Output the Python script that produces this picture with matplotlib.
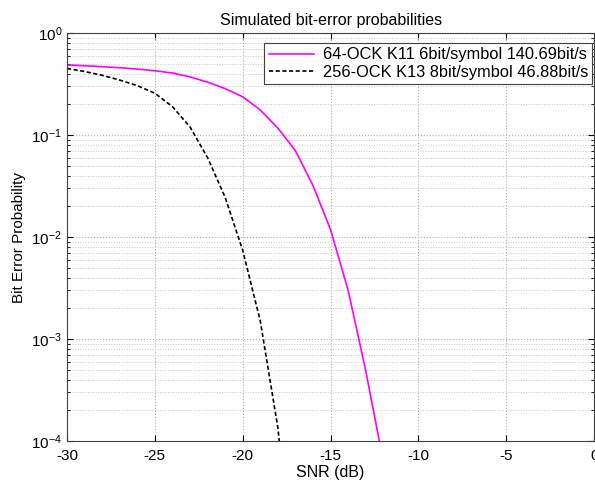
import numpy as np
import matplotlib
matplotlib.use("Agg")
import matplotlib.pyplot as plt
from matplotlib.ticker import LogLocator, NullFormatter

plt.rcParams['font.family'] = ['Liberation Sans', 'DejaVu Sans']
plt.rcParams['axes.unicode_minus'] = False

# SNR in dB, 1 dB steps
snr_64 = [-30, -29, -28, -27, -26, -25, -24, -23, -22, -21, -20,
          -19, -18, -17, -16, -15, -14, -13, -12, -11]
ber_64 = [0.487, 0.478, 0.468, 0.457, 0.443, 0.427, 0.405, 0.372, 0.33, 0.285, 0.237,
          0.176, 0.117, 0.070, 0.032, 0.0118, 0.0030, 4.9e-4, 6.3e-5, 2e-6]

snr_256 = [-30, -29, -28, -27, -26, -25, -24, -23, -22, -21, -20,
           -19, -18, -17]
ber_256 = [0.45, 0.42, 0.385, 0.346, 0.305, 0.257, 0.19, 0.12, 0.06, 0.0245,
           7.4e-3, 1.5e-3, 1.35e-4, 3e-6]

label_64 = "64-OCK K11 6bit/symbol 140.69bit/s"
label_256 = "256-OCK K13 8bit/symbol 46.88bit/s"

fig = plt.figure(figsize=(5.95, 4.86), dpi=100)
ax = fig.add_axes([0.1126, 0.0926, 0.886, 0.8394])

ax.semilogy(snr_64, ber_64, color='#ff00ff', lw=1.2, label=label_64)
ax.semilogy(snr_256, ber_256, color='black', lw=1.2, ls=(0, (2.5, 1.5)), label=label_256)

ax.set_xlim(-30, 0)
ax.set_ylim(1e-4, 1)
ax.set_xticks([-30, -25, -20, -15, -10, -5, 0])
ax.yaxis.set_major_locator(LogLocator(base=10, numticks=10))
ax.yaxis.set_minor_locator(LogLocator(base=10, subs=np.arange(2, 10), numticks=20))
ax.yaxis.set_minor_formatter(NullFormatter())

ax.grid(True, which='major', ls=':', color='#b0b0b0', lw=0.8)
ax.grid(True, which='minor', axis='y', ls=':', color='#c8c8c8', lw=0.7)
ax.tick_params(which='both', direction='in', top=True, right=True, labelsize=11)
ax.tick_params(which='major', length=4)
ax.tick_params(which='minor', length=2)
ax.tick_params(axis='x', pad=6)
for s in ax.spines.values():
    s.set_color('#404040')
    s.set_linewidth(0.8)

ax.set_title("Simulated bit-error probabilities", fontsize=11.5)
ax.set_xlabel("SNR (dB)", fontsize=11.5, labelpad=1)
ax.set_ylabel("Bit Error Probability", fontsize=11)

leg = ax.legend(loc='upper right', bbox_to_anchor=(0.996, 0.975), borderaxespad=0,
                fontsize=11.8, fancybox=False, framealpha=1, edgecolor='#404040',
                handlelength=2.8, handletextpad=0.5, borderpad=0.25, labelspacing=0.15)
leg.get_frame().set_linewidth(0.8)

fig.savefig("out.png", dpi=100)
